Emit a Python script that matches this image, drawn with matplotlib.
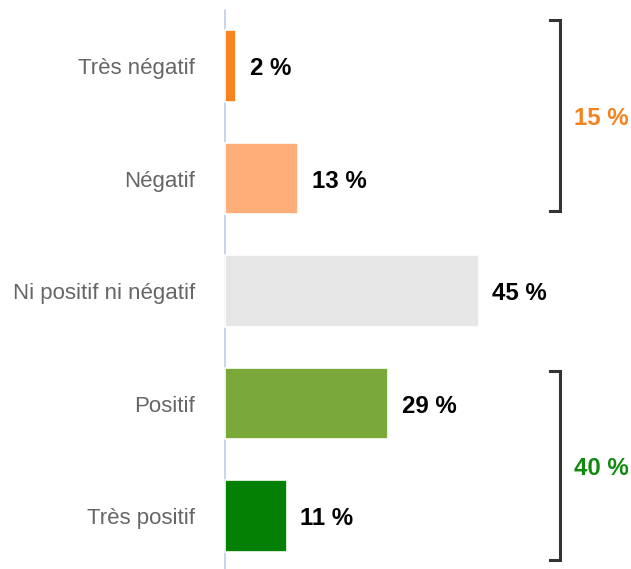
import matplotlib.pyplot as plt

plt.rcParams['font.family'] = ['Liberation Sans', 'DejaVu Sans']

categories = ["Très négatif", "Négatif", "Ni positif ni négatif", "Positif", "Très positif"]
values = [2, 13, 45, 29, 11]
colors = ["#F8821E", "#FFAE79", "#E6E6E6", "#7AA93A", "#048004"]

groups = [
    # (first index, last index, label, colour)
    (0, 1, "15 %", "#F5821F"),
    (3, 4, "40 %", "#128A12"),
]

fig = plt.figure(figsize=(6.31, 5.69), dpi=100)
ax = fig.add_axes([224 / 631, 0, 407 / 631, 1])

y = list(range(len(categories)))
ax.set_xlim(-0.09, 72)
ax.set_ylim(4.471, -0.587)

# axis line behind the bars
ax.plot([-0.09, -0.09], [-0.51, 4.471], color="#C9D2E6", lw=2, zorder=1, solid_capstyle="butt")

bars = ax.barh(y, values, height=0.635, color=colors, edgecolor="white", linewidth=1.2, zorder=2)

for yi, v in zip(y, values):
    ax.annotate(f"{v} %", (v, yi), xytext=(10, -2), textcoords="offset points",
                ha="left", va="center", fontsize=17.3, fontweight="bold", color="black")

for yi, cat in zip(y, categories):
    ax.annotate(cat, (0, yi), xytext=(-21, -2), textcoords="offset points",
                ha="right", va="center", fontsize=16, color="#666666",
                annotation_clip=False)

# brackets on the right
bx = 59.4
tick = 1.8
pads = [(0.41, 0.285), (0.293, 0.39)]
for (first, last, label, col), (ptop, pbot) in zip(groups, pads):
    top = first - ptop
    bot = last + pbot
    ax.plot([bx - tick, bx, bx, bx - tick], [top, top, bot, bot],
            color="#333333", lw=2.2, solid_joinstyle="miter")
    ax.annotate(label, (bx, (top + bot) / 2), xytext=(10.5, -2), textcoords="offset points",
                ha="left", va="center", fontsize=17.3, fontweight="bold", color=col)

ax.axis("off")
fig.savefig("out.png", dpi=100)
